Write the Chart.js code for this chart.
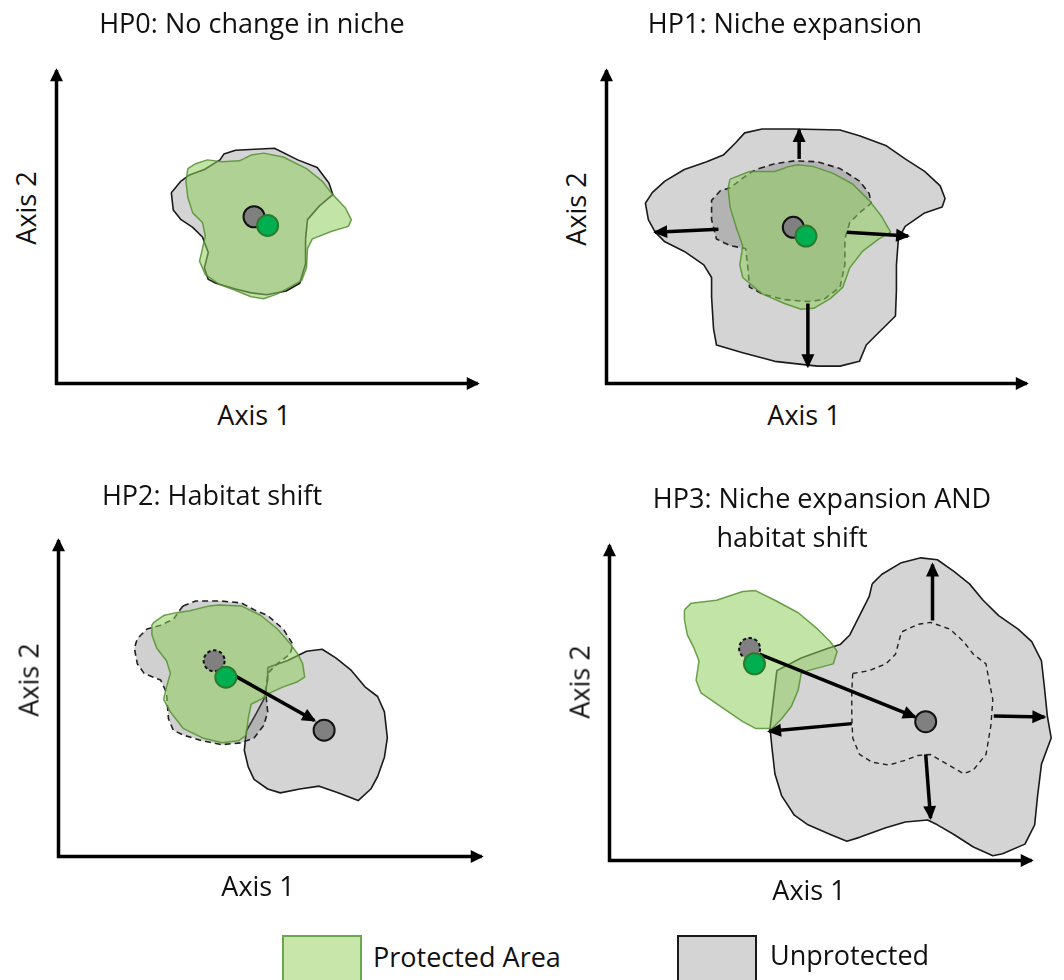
<!DOCTYPE html>
<html>
<head>
<meta charset="utf-8">
<script src="https://cdn.jsdelivr.net/npm/chart.js@4.4.0/dist/chart.umd.min.js"></script>
<style>
    body { margin: 0; background: #fff; width: 1064px; height: 980px; position: relative; overflow: hidden; font-family: 'Open Sans', sans-serif; color: #111; }
    canvas { position: absolute; }
    .t { position: absolute; font-size: 27px; line-height: 27px; white-space: nowrap; transform: translateX(-50%); z-index: 2; }
    .l { position: absolute; font-size: 27px; line-height: 27px; white-space: nowrap; z-index: 2; }
    .ay { position: absolute; font-size: 27px; line-height: 27px; white-space: nowrap; transform: translate(-50%, -50%) rotate(-90deg); z-index: 2; }
    .box { position: absolute; width: 76px; height: 60px; }
</style>
</head>
<body>

<canvas id="hp0" width="492" height="372" style="left:44px;top:24px"></canvas>
<canvas id="hp1" width="492" height="372" style="left:594px;top:24px"></canvas>
<canvas id="hp2" width="492" height="372" style="left:46px;top:497px"></canvas>
<canvas id="hp3" width="492" height="372" style="left:597px;top:501px"></canvas>

<div class="t" style="left:252px;top:9px">HP0: No change in niche</div>
<div class="t" style="left:785px;top:9px">HP1: Niche expansion</div>
<div class="t" style="left:212px;top:481px">HP2: Habitat shift</div>
<div class="t" style="left:822px;top:484px">HP3: Niche expansion AND</div>
<div class="t" style="left:792px;top:523px">habitat shift</div>

<div class="t" style="left:254px;top:401px">Axis 1</div>
<div class="t" style="left:804px;top:401px">Axis 1</div>
<div class="t" style="left:258px;top:872px">Axis 1</div>
<div class="t" style="left:809px;top:876px">Axis 1</div>
<div class="ay" style="left:25px;top:208px">Axis 2</div>
<div class="ay" style="left:575px;top:209px">Axis 2</div>
<div class="ay" style="left:28px;top:680px">Axis 2</div>
<div class="ay" style="left:579px;top:682px">Axis 2</div>

<div class="box" style="left:282px;top:935px;background:#c8e6aa;border:2px solid #6aa84f"></div>
<div class="l" style="left:373px;top:943px">Protected Area</div>
<div class="box" style="left:677px;top:935px;background:#d4d4d4;border:2px solid #1a1a1a"></div>
<div class="l" style="left:770px;top:941px">Unprotected</div>

<script>
    // axis arrow lengths per panel (units, 1 unit ~ 4px)
    var axisEndX = [108.25, 108, 108.75, 108.5];
    var axisEndY = [81.25, 81.25, 82, 81.75];

    // HP0: no change in niche
    var hp0Unprotected = [[29.5,49.5],[32,52.5],[34,54],[38,55.5],[42,58],[43,59.5],[46,60.5],[56,61],[62,58],[67,56],[70,52],[71,49],[67.5,46],[64.5,42.5],[64,37.5],[64,31],[62.5,26],[59,24],[54,23],[50,23.5],[46,24.5],[41,26],[39,27],[38,30],[39,34],[37.5,38],[35,40.5],[32,42.5],[30,45]];
    var hp0Protected = [[33.75,55.75],[35.75,57],[38.75,58],[42.5,57.5],[47,57.75],[50,59.25],[53.25,59.75],[58.25,58.75],[64.25,55.75],[68.25,52.5],[70.75,49.25],[74.25,45.5],[75.75,42.5],[75,40.75],[70.75,39.5],[65.75,37.5],[64.5,35],[64.25,30],[63,26.75],[60,25],[56.75,23.25],[53.25,22],[50,22.5],[45.75,24.25],[41.75,25.75],[38.25,28.25],[36.75,31.75],[37.5,35],[38.25,38.25],[37.5,41.75],[35,44.25],[33.75,48.25],[33.25,52.5]];
    var hp0CentreUnprot = [50.75, 43.25];
    var hp0CentreProt = [54.25, 41];

    // HP1: niche expansion
    var hp1Unprotected = [[33.25,62.5],[35.5,65],[40,66],[48.25,66],[60,65.75],[65,64.25],[71.75,61.75],[76.75,58.25],[81.75,55],[85.75,51.25],[87,48],[86.25,45.75],[81.75,44.25],[76.75,40.75],[75,37.5],[74.5,30.75],[74.5,24.25],[74.25,17.5],[69.25,12.5],[66.75,10],[65,5.75],[60,4.5],[54.25,4.5],[43.25,5.75],[35,8],[28.25,10],[27.5,14.25],[27,22.5],[27,27.5],[25,30.75],[20,34.25],[15,36.75],[12.5,39.25],[10.75,42.5],[10,46.75],[11.75,49.5],[15,52.5],[20,55.5],[25.75,57.5],[30,59.25]];
    var hp1Before = [[39.25,55.75],[43.25,57],[48.25,57.75],[54.25,57.5],[60,55.75],[65,52.5],[67.5,49.25],[68,46.75],[65,44.25],[62.5,41.75],[61.25,37.5],[61.25,30.75],[60,25],[55.75,21.75],[51.75,21.25],[45.75,21.75],[40,23.25],[36.75,25],[36.25,30.75],[35.75,35],[31.75,35.75],[28.25,37.5],[27,42.5],[27,47.5],[29.25,50],[31.75,50.75],[35,53.25],[37.5,55]];
    var hp1Protected = [[31.75,53],[36.75,55],[43.25,55],[46.75,56.25],[49.25,56.75],[53.25,56.25],[58.25,54.5],[63.25,51.75],[67.5,47.5],[70.75,43.25],[73,39.25],[70,37.5],[65.75,34.25],[62.5,30],[60.75,25],[57.5,22],[53.25,19.5],[50,19.25],[45.75,20.75],[40,23.25],[35,27.5],[34.25,30.75],[35,35.75],[33.25,40.75],[31.75,45.75],[31.25,50.75]];
    var hp1CentreUnprot = [48, 40.5];
    var hp1CentreProt = [51.25, 38.25];
    var hp1Arrows = [
        [[49.5,58.25],[49.5,65.75]],
        [[28.75,40],[12.5,39.25]],
        [[61.75,39.25],[77.5,38.25]],
        [[51.75,20.75],[51.75,4.5]]
    ];

    // HP2: habitat shift
    var hp2Unprotected = [[53.75,49],[58.75,50.75],[63.75,53.25],[67.75,53.75],[71.25,51.5],[75.25,48.25],[78.75,44],[82,41.5],[83.75,37.5],[84.5,30.75],[83.75,25.75],[82,20.75],[80.25,17.5],[77,14.5],[72,16.5],[67,18.25],[62,17.5],[57,16.5],[53.75,17.5],[50.25,20],[48.75,23.25],[47.75,27.5],[48.25,32.5],[50.75,37],[52.75,40.75],[53.75,45.75]];
    var hp2Before = [[32,65],[35.25,66.25],[42,66.25],[47,65.75],[50.25,64],[53.75,62.5],[57.75,59],[60.25,55],[59.5,52.5],[56.25,50],[53.75,47.5],[53.25,42.5],[53.75,37.5],[52.75,34],[50.25,30.75],[47,29.5],[42,29],[37,30],[32,31.5],[29.5,32.75],[28.25,35.75],[27.75,42.5],[26.25,45.75],[22,47.5],[20.25,50],[19.5,54],[20.25,56.5],[22.75,59],[26.25,60],[29.5,61.5],[31.25,64]];
    var hp2Protected = [[24.5,60.75],[27,62.5],[30.25,63.25],[33.75,63.75],[38.75,65],[41.25,65.25],[47,65],[52,62.5],[56.25,59],[59.5,55.25],[61.5,52.5],[62.75,50],[63.25,46.5],[61.25,45.25],[57.75,44],[54.5,42.5],[52,40.75],[49.5,39.5],[48.75,35.75],[48.25,31.5],[46.25,30],[42,29.5],[37,30.75],[32,33.25],[28.75,37.5],[27,40.75],[27.75,44],[28.75,47.5],[27.75,50.75],[25.25,54],[24,57.5],[24,60]];
    var hp2CentreBefore = [40, 50.75];
    var hp2CentreProt = [43, 46.5];
    var hp2CentreUnprot = [68.25, 32.75];
    var hp2Shift = [[43.75,47.75],[65.75,35.25]];

    // HP3: niche expansion and habitat shift
    var hp3Unprotected = [[67.5,71.75],[70,74.25],[75,77.25],[80,78.5],[84.25,78],[88.5,75],[92.5,71.75],[96,67.5],[100,63.5],[105,60],[108.5,56.75],[111,51.75],[111.75,45],[112.5,37.5],[113.5,31.75],[111,25],[110,16.75],[109.25,9.25],[106.75,4.25],[101,1.75],[98.5,1.25],[93.5,3.5],[88.5,6.75],[84.25,9.25],[81.75,10.5],[76,10],[71,8.5],[64.25,6],[61,5],[56.75,6.75],[51,9.25],[47.5,11.75],[44.25,16.75],[42.5,22.5],[41.75,29.25],[41.25,34.25],[43,49.25],[49.25,52.5],[56,55],[59.25,56],[61.75,58.5],[64.25,63.5],[66.75,68.5]];
    var hp3Before = [[62.5,48.5],[66.75,49.25],[71,51],[73.5,53.5],[75,59.25],[79.25,61.25],[82.5,61.75],[87.5,60],[91,56.75],[93.5,53.5],[96.75,51],[97.5,46.75],[98.5,41.75],[98,35],[96.75,27.5],[93.5,23.5],[91,22.5],[86.75,25],[82.5,27.5],[79.25,27.25],[76,26],[71.75,24.75],[67.5,25.5],[64.25,27.5],[62.5,31.75],[62.25,37.5],[62.25,43.5]];
    var hp3Protected = [[19.25,65],[21,66.75],[27.5,67.5],[34.25,69.75],[37.5,70],[42.5,67.5],[48.5,64.25],[53.5,60],[56.75,56.75],[58.5,54.25],[57.5,51],[51,49.25],[49.25,48.5],[48.5,44.25],[46.75,40],[44.25,36.75],[41.75,34.25],[37.5,34.25],[34.25,36],[28.5,40],[23.5,43.5],[22.25,46.75],[23,51.75],[21.75,55],[20,58.5],[19.25,62.5]];
    var hp3CentreBefore = [36, 55];
    var hp3CentreProt = [37.25, 51];
    var hp3CentreUnprot = [81.25, 36];
    var hp3Shift = [[38.5,53.5],[78.5,37.25]];
    var hp3Arrows = [
        [[83,62.25],[83,76.75]],
        [[98.75,37.5],[111.75,37.25]],
        [[81.25,27.5],[82.5,11]],
        [[62.25,35.5],[41,33.5]]
    ];

    function pts(arr) {
        return arr.map(function (p) { return {x: p[0], y: p[1]}; });
    }

    function ring(arr) {
        return pts(arr.concat([arr[0]]));
    }

    var styles = {
        unprot: {backgroundColor: '#d4d4d4', borderColor: '#1a1a1a', borderWidth: 1.6},
        before: {backgroundColor: 'rgba(110,110,110,0.32)', borderColor: '#222', borderWidth: 1.6, borderDash: [6, 4]},
        outline: {backgroundColor: 'rgba(0,0,0,0)', borderColor: '#222', borderWidth: 1.4, borderDash: [5, 4]},
        prot: {backgroundColor: 'rgba(146,205,95,0.55)', borderColor: 'rgba(85,145,50,0.85)', borderWidth: 1.5}
    };

    function blob(arr, kind) {
        var s = styles[kind];
        return {
            data: ring(arr),
            showLine: true,
            fill: kind === 'outline' ? false : 'shape',
            backgroundColor: s.backgroundColor,
            borderColor: s.borderColor,
            borderWidth: s.borderWidth,
            borderDash: s.borderDash || [],
            borderJoinStyle: 'round',
            pointRadius: 0,
            tension: 0,
            clip: false
        };
    }

    function dot(c, kind) {
        var fillCol = kind === 'prot' ? '#00b050' : '#808080';
        var edge = kind === 'prot' ? '#2d7a2d' : '#111';
        return {
            data: pts([c]),
            showLine: false,
            pointRadius: 10.5,
            pointBackgroundColor: fillCol,
            pointBorderColor: edge,
            pointBorderWidth: kind === 'before' ? 0 : 2,
            dashedRing: kind === 'before',
            clip: false
        };
    }

    function arrow(seg) {
        return {
            data: pts(seg),
            showLine: true,
            fill: false,
            borderColor: '#000',
            borderWidth: 3.5,
            borderCapStyle: 'butt',
            pointRadius: 0,
            arrowEnd: true,
            headLen: 14,
            headWidth: 13,
            clip: false
        };
    }

    function axes(i) {
        return {
            data: pts([[0, axisEndY[i]], [0, 0], [axisEndX[i], 0]]),
            showLine: true,
            fill: false,
            borderColor: '#000',
            borderWidth: 3.5,
            borderJoinStyle: 'miter',
            borderCapStyle: 'butt',
            pointRadius: 0,
            arrowStart: true,
            arrowEnd: true,
            headLen: 13,
            headWidth: 13,
            clip: false
        };
    }

    function drawHead(ctx, from, to, len, width) {
        var a = Math.atan2(to.y - from.y, to.x - from.x);
        ctx.save();
        ctx.translate(to.x, to.y);
        ctx.rotate(a);
        ctx.beginPath();
        ctx.moveTo(2, 0);
        ctx.lineTo(2 - len, -width / 2);
        ctx.lineTo(2 - len, width / 2);
        ctx.closePath();
        ctx.fillStyle = '#000';
        ctx.fill();
        ctx.restore();
    }

    var arrowHeads = {
        id: 'arrowHeads',
        afterDatasetDraw: function (chart, args) {
            var ds = chart.data.datasets[args.index];
            var p = args.meta.data;
            var ctx = chart.ctx;
            if (ds.arrowEnd) {
                drawHead(ctx, p[p.length - 2], p[p.length - 1], ds.headLen, ds.headWidth);
            }
            if (ds.arrowStart) {
                drawHead(ctx, p[1], p[0], ds.headLen, ds.headWidth);
            }
            if (ds.dashedRing) {
                p.forEach(function (el) {
                    ctx.save();
                    ctx.beginPath();
                    ctx.setLineDash([3.5, 2.5]);
                    ctx.lineWidth = 2;
                    ctx.strokeStyle = '#111';
                    ctx.arc(el.x, el.y, ds.pointRadius, 0, Math.PI * 2);
                    ctx.stroke();
                    ctx.restore();
                });
            }
        }
    };

    function makeChart(id, datasets) {
        // first in list is drawn at the bottom
        datasets.forEach(function (d, i) {
            d.order = datasets.length - i;
        });
        return new Chart(document.getElementById(id), {
            type: 'line',
            data: {datasets: datasets},
            options: {
                responsive: false,
                animation: false,
                events: [],
                layout: {padding: 6},
                plugins: {
                    legend: {display: false},
                    tooltip: {enabled: false}
                },
                scales: {
                    x: {type: 'linear', min: 0, max: 120, display: false},
                    y: {type: 'linear', min: 0, max: 90, display: false}
                }
            },
            plugins: [arrowHeads]
        });
    }

    makeChart('hp0', [
        axes(0),
        blob(hp0Unprotected, 'unprot'),
        blob(hp0Protected, 'prot'),
        dot(hp0CentreUnprot, 'unprot'),
        dot(hp0CentreProt, 'prot')
    ]);

    makeChart('hp1', [
        axes(1),
        blob(hp1Unprotected, 'unprot'),
        blob(hp1Before, 'before'),
        blob(hp1Protected, 'prot')
    ].concat(hp1Arrows.map(arrow)).concat([
        dot(hp1CentreUnprot, 'unprot'),
        dot(hp1CentreProt, 'prot')
    ]));

    makeChart('hp2', [
        axes(2),
        blob(hp2Unprotected, 'unprot'),
        blob(hp2Before, 'before'),
        blob(hp2Protected, 'prot'),
        arrow(hp2Shift),
        dot(hp2CentreBefore, 'before'),
        dot(hp2CentreProt, 'prot'),
        dot(hp2CentreUnprot, 'unprot')
    ]);

    makeChart('hp3', [
        axes(3),
        blob(hp3Unprotected, 'unprot'),
        blob(hp3Before, 'outline'),
        blob(hp3Protected, 'prot'),
        arrow(hp3Shift)
    ].concat(hp3Arrows.map(arrow)).concat([
        dot(hp3CentreBefore, 'before'),
        dot(hp3CentreProt, 'prot'),
        dot(hp3CentreUnprot, 'unprot')
    ]));
</script>
</body>
</html>
